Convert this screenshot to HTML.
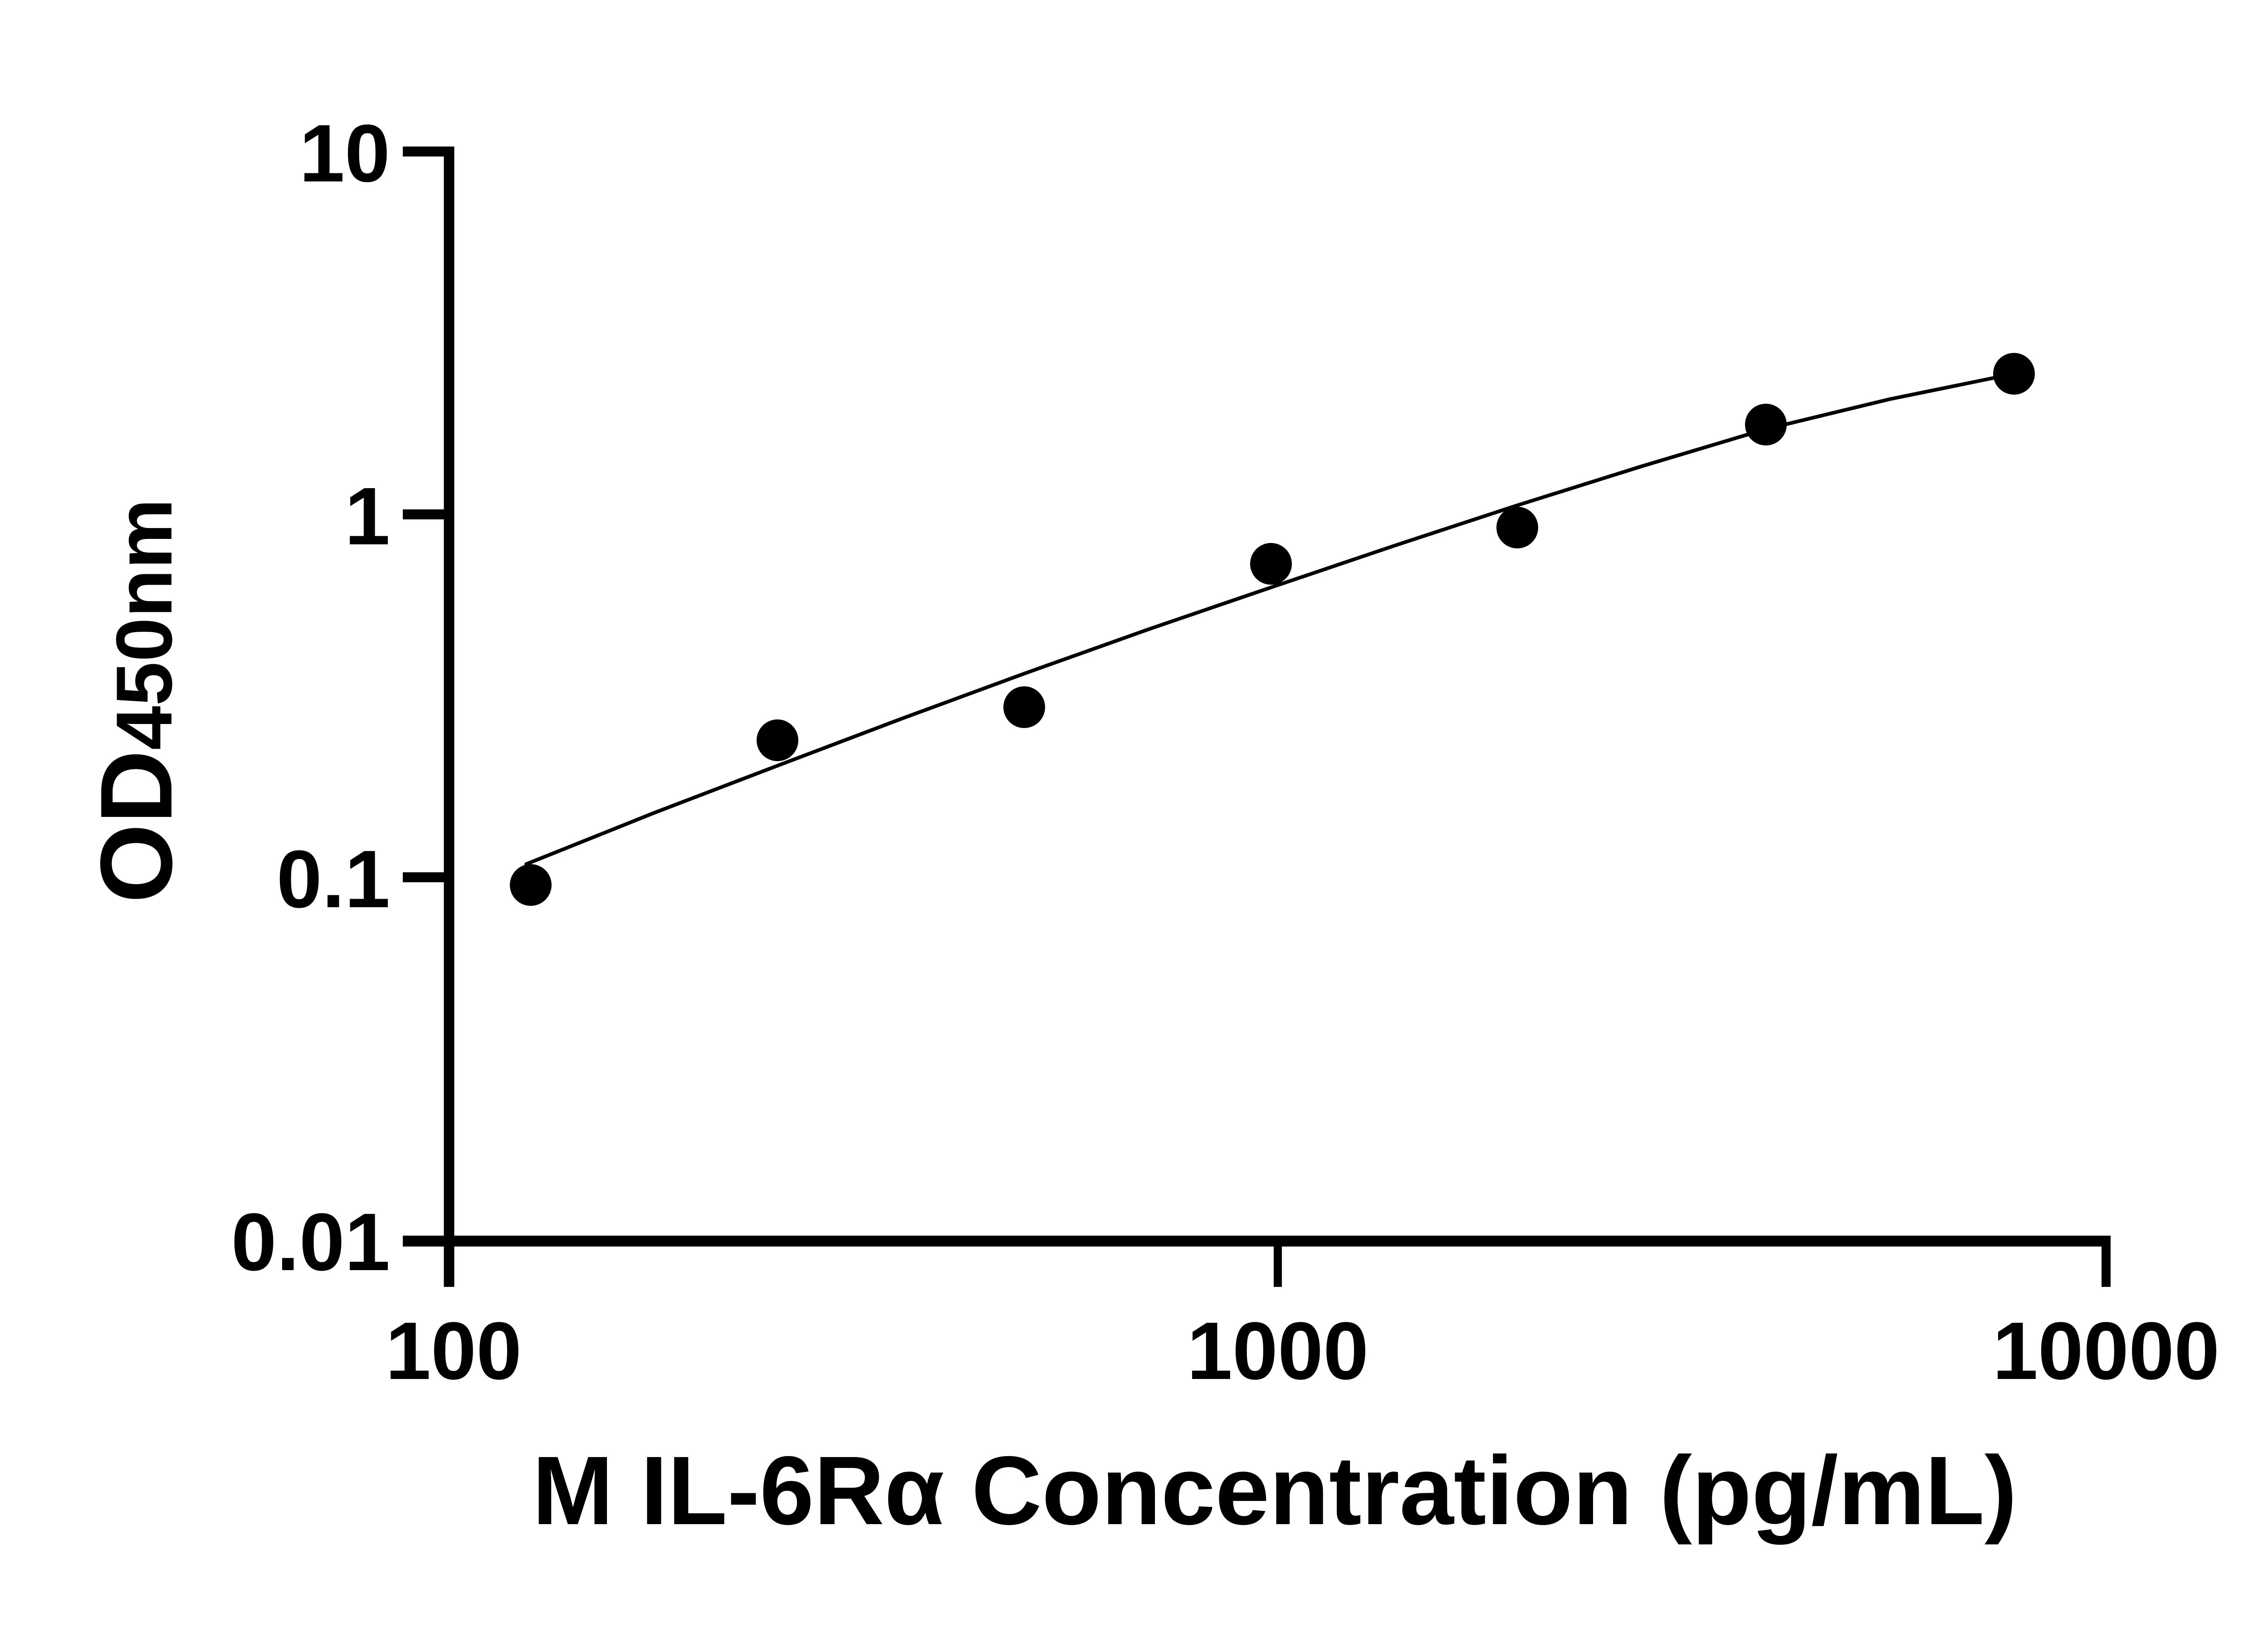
<!DOCTYPE html>
<html><head><style>html,body{margin:0;padding:0;background:#fff}svg{display:block}</style></head>
<body>
<svg width="5142" height="3600" viewBox="0 0 5142 3600" xmlns="http://www.w3.org/2000/svg" font-family="Liberation Sans, sans-serif" font-weight="bold">
<rect width="5142" height="3600" fill="#fff"/>
<line x1="990" y1="323" x2="990" y2="2837" stroke="#000" stroke-width="23"/>
<line x1="888" y1="2736" x2="4643" y2="2736" stroke="#000" stroke-width="24"/>
<line x1="4643" y1="2724" x2="4643" y2="2837" stroke="#000" stroke-width="20"/>
<line x1="2817" y1="2736" x2="2817" y2="2837" stroke="#000" stroke-width="18"/>
<g stroke="#000" stroke-width="22">
<line x1="888" y1="334" x2="1000" y2="334"/>
<line x1="888" y1="1134" x2="1000" y2="1134"/>
<line x1="888" y1="1934" x2="1000" y2="1934"/>
</g>
<g font-size="180" text-anchor="end">
<text x="860" y="400">10</text>
<text x="860" y="1200">1</text>
<text x="860" y="2000">0.1</text>
<text x="860" y="2800">0.01</text>
</g>
<g font-size="180" text-anchor="middle">
<text x="1000" y="3040">100</text>
<text x="2817" y="3040">1000</text>
<text x="4643" y="3040">10000</text>
</g>
<text x="2810" y="3360" font-size="215" text-anchor="middle">M IL-6Rα Concentration (pg/mL)</text>
<text transform="translate(378,1545) rotate(-90)" text-anchor="middle"><tspan font-size="225">OD</tspan><tspan font-size="175">450nm</tspan></text>
<polyline fill="none" stroke="#000" stroke-width="8" stroke-linejoin="round" stroke-linecap="round" points="1160,1905 1442,1792 1714,1688 1986,1585 2258,1485 2530,1388 2802,1295 3074,1203 3345,1114 3619,1028 3893,946 4166,880 4440,824"/>
<g fill="#000">
<circle cx="1170" cy="1951" r="46"/>
<circle cx="1714" cy="1632" r="46"/>
<circle cx="2258" cy="1559" r="46"/>
<circle cx="2802" cy="1243" r="46"/>
<circle cx="3345" cy="1163" r="46"/>
<circle cx="3893" cy="936" r="46"/>
<circle cx="4440" cy="824" r="46"/>
</g>
</svg>
</body></html>
